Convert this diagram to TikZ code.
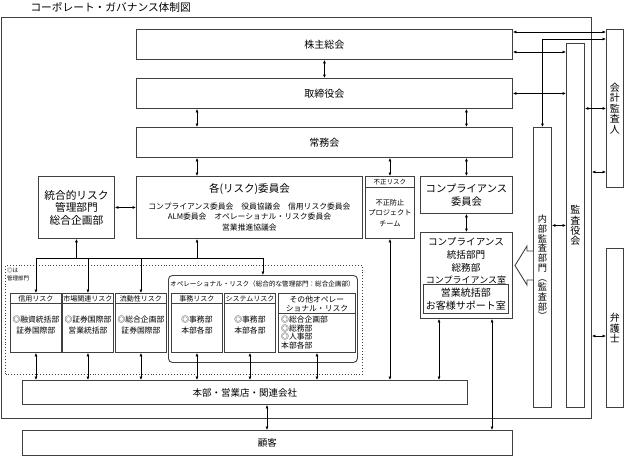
\documentclass[tikz,border=0pt]{standalone}
\usepackage{fontspec}
\setmainfont{Noto Sans CJK JP}
\usetikzlibrary{arrows.meta}

\newcommand{\jfs}[2]{\fontsize{#1}{#2}\selectfont}

\tikzset{
  box/.style={draw=black!75, line width=0.9pt, fill=white, inner sep=0pt,
    align=center, anchor=north west},
  lnk/.style={{Latex[length=3.5pt,width=3pt]}-{Latex[length=3.5pt,width=3pt]}, line width=0.6pt},
  one/.style={-{Latex[length=3.5pt,width=3pt]}, line width=0.6pt},
}

\begin{document}
\begin{tikzpicture}[x=1pt, y=-1pt, font=\jfs{10}{12}]
  \useasboundingbox (0,0) rectangle (624,456);

  \node[anchor=west, font=\jfs{10.7}{12}] (title) at (27,7) {コーポレート・ガバナンス体制図};
  \node[box, fill=none, minimum width=590pt, minimum height=401pt] (outer) at (1,17) {};

  % top row of boards
  \node[box, minimum width=376pt, minimum height=30pt] (kabu) at (136,29) {株主総会};
  \node[box, minimum width=376pt, minimum height=30pt] (tori) at (136,78) {取締役会};
  \node[box, minimum width=376pt, minimum height=30pt] (jomu) at (136,127) {常務会};

  % committees
  \node[box, minimum width=76pt, minimum height=62pt, font=\jfs{10.7}{12.5}] (togo) at (38,176)
    {統合的リスク\\管理部門\\総合企画部};
  \node[box, minimum width=226pt, minimum height=62pt, font=\jfs{7.8}{10.5}] (iinkai) at (136,176)
    {{\jfs{10.5}{12}各(リスク)委員会}\\[6pt]
     コンプライアンス委員会　役員協議会　信用リスク委員会\\
     ALM委員会　オペレーショナル・リスク委員会\\
     営業推進協議会};
  \node[box, minimum width=49pt, minimum height=11pt, font=\jfs{6.5}{7}] (fuseih) at (365,176) {不正リスク};
  \node[box, minimum width=49pt, minimum height=51pt, font=\jfs{7.2}{10.5}] (fusei) at (365,187)
    {不正防止\\プロジェクト\\チーム};
  \node[box, minimum width=92pt, minimum height=37pt, font=\jfs{10.3}{13}] (compi) at (420,176)
    {コンプライアンス\\委員会};
  \node[box, minimum width=92pt, minimum height=86pt] (compb) at (420,232) {};
  \node[anchor=north, align=center, font=\jfs{9.6}{12.8}] (compbt) at (466,234)
    {コンプライアンス\\統括部門\\総務部\\{\jfs{9}{12.8}コンプライアンス室}};
  \node[box, minimum width=85pt, minimum height=29pt, font=\jfs{10}{13}] (eigyo) at (423,284)
    {営業統括部\\お客様サポート室};

  % audit column
  \node[box, minimum width=18pt, minimum height=280pt, font=\jfs{9.2}{9.7}] (naibu) at (533,127)
    {内\\部\\監\\査\\部\\門\\︵\\監\\査\\部\\︶};
  \node[box, minimum width=18pt, minimum height=364pt, font=\jfs{10}{10.4}] (kansa) at (566,43)
    {監\\査\\役\\会};
  \node[box, minimum width=17pt, minimum height=158pt, font=\jfs{10}{10.6}] (kaikei) at (606,29)
    {会\\計\\監\\査\\人};
  \node[box, minimum width=17pt, minimum height=159pt, font=\jfs{10}{10.6}] (bengo) at (606,248)
    {弁\\護\\士};
  \draw[draw=black!75, line width=0.9pt, fill=white] (533,251) -- (527,251) -- (527,246)
    -- (515,265.5) -- (527,285) -- (527,280) -- (533,280);

  % risk management area
  \node[box, fill=none, dotted, line width=1pt, minimum width=357pt, minimum height=109pt] (kanri) at (5,265) {};
  \node[anchor=north west, align=left, font=\jfs{5.5}{8}, inner sep=0pt] (kanrit) at (7,268) {◎は\\管理部門};
  \node[box, rounded corners=4pt, minimum width=189pt, minimum height=87pt] (oprisk) at (168,275) {};
  \node[font=\jfs{6.6}{7}] (opriskt) at (262.5,284)
    {オペレーショナル・リスク（総合的な管理部門：総合企画部）};

  \foreach \n/\x/\h/\a/\b in {shinyo/10/信用リスク/◎融資統括部/証券国際部,
      shijo/62/市場関連リスク/◎証券国際部/営業統括部,
      ryudo/115/流動性リスク/◎総合企画部/証券国際部,
      jimu/171/事務リスク/◎事務部/本部各部,
      sys/224/システムリスク/◎事務部/本部各部} {
    \node[box, minimum width=51pt, minimum height=10pt, font=\jfs{7}{8}] (\n-h) at (\x,293) {\h};
    \node[box, minimum width=51pt, minimum height=49pt] (\n) at (\x,303) {};
    \node[anchor=north, align=center, font=\jfs{7.8}{11.5}, yshift=-9pt] (\n-t) at (\n.north) {\a\\\b};
  }
  \node[box, minimum width=77pt, minimum height=20pt, font=\jfs{7.8}{9}] (sonota-h) at (278,293)
    {その他オペレー\\ショナル・リスク};
  \node[box, minimum width=77pt, minimum height=39pt] (sonota) at (278,313) {};
  \node[anchor=north west, align=left, inner sep=0pt, font=\jfs{7.8}{8.6}] (sonota-t) at (281,316)
    {◎総合企画部\\◎総務部\\◎人事部\\本部各部};

  % bottom
  \node[box, minimum width=445pt, minimum height=24pt, font=\jfs{9.5}{11}] (honbu) at (22,380)
    {本部・営業店・関連会社};
  \node[box, minimum width=490pt, minimum height=25pt, font=\jfs{9.5}{11}] (kokyaku) at (22,430) {顧客};

  % helper positions
  \coordinate (c1) at (197,0);
  \coordinate (c2) at (439,0);
  \coordinate (c3) at (492,0);
  \coordinate (c4) at (267,0);
  \coordinate (bus) at (0,258);
  \coordinate (r1) at (0,32);
  \coordinate (r2) at (0,39);
  \coordinate (r3) at (0,52);
  \coordinate (r4) at (0,172);
  \coordinate (r5) at (0,336);

  % vertical links
  \draw[lnk] (kabu.south) -- (tori.north);
  \draw[lnk] (tori.south -| c1) -- (jomu.north -| c1);
  \draw[lnk] (tori.south -| compi) -- (jomu.north -| compi);
  \draw[lnk] (jomu.south -| c1) -- (iinkai.north -| c1);
  \draw[lnk] (jomu.south -| fuseih) -- (fuseih.north);
  \draw[lnk] (jomu.south -| compi) -- (compi.north);
  \draw[lnk] (compi.south) -- (compb.north);
  \draw[lnk] (togo.east) -- (iinkai.west);

  % risk bus
  \draw[line width=0.6pt] (shinyo-h.north |- bus) -- (oprisk.north |- bus);
  \draw[one] (togo.south |- bus) -- (togo.south);
  \draw[one] (c1 |- bus) -- (c1 |- iinkai.south);
  \foreach \n in {shinyo-h, shijo-h, ryudo-h, oprisk}
    \draw[one] (\n.north |- bus) -- (\n.north);

  % links to head office
  \foreach \n in {shinyo, shijo, ryudo, jimu, sys, sonota, fusei}
    \draw[lnk] (\n.south) -- (\n.south |- honbu.north);
  \draw[lnk] (compb.south -| c2) -- (honbu.north -| c2);
  \draw[lnk] (compb.south -| c3) -- (kokyaku.north -| c3);
  \draw[lnk] (honbu.south -| c4) -- (kokyaku.north -| c4);

  % audit links
  \draw[lnk] (kabu.east |- r1) -- (kaikei.west |- r1);
  \draw[lnk] (naibu.north) |- (kaikei.west |- r2);
  \draw[lnk] (kabu.east |- r3) -- (kansa.west |- r3);
  \draw[lnk] (tori.east) -- (kansa.west |- tori.east);
  \draw[lnk] (kansa.east |- kaikei.west) -- (kaikei.west);
  \draw[lnk] (outer.east |- r4) -- (kaikei.west |- r4);
  \draw[lnk] (naibu.east |- kansa.west) -- (kansa.west);
  \draw[lnk] (outer.east |- r5) -- (bengo.west |- r5);
\end{tikzpicture}
\end{document}
